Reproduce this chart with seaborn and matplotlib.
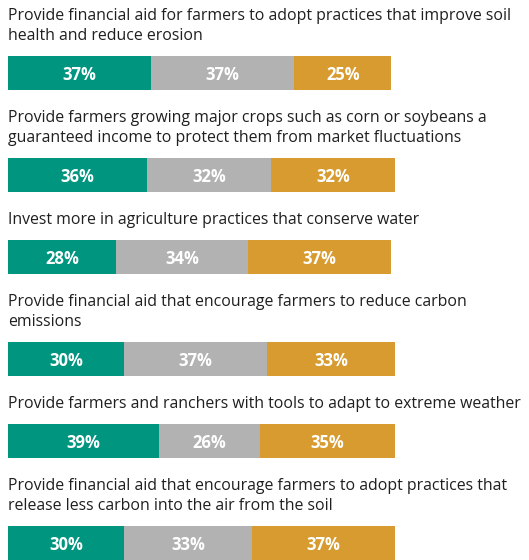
import matplotlib
matplotlib.use("Agg")
import matplotlib.pyplot as plt
import seaborn as sns
import numpy as np
import pandas as pd

titles = [
    "Provide financial aid for farmers to adopt practices that improve soil\nhealth and reduce erosion",
    "Provide farmers growing major crops such as corn or soybeans a\nguaranteed income to protect them from market fluctuations",
    "Invest more in agriculture practices that conserve water",
    "Provide financial aid that encourage farmers to reduce carbon\nemissions",
    "Provide farmers and ranchers with tools to adapt to extreme weather",
    "Provide financial aid that encourage farmers to adopt practices that\nrelease less carbon into the air from the soil",
]
support = [37, 36, 28, 30, 39, 30]
neutral = [37, 32, 34, 37, 26, 33]
oppose = [25, 32, 37, 33, 35, 37]

colors = ["#00957F", "#B1B2B1", "#D89B2F"]

sns.set_theme(style="white")
plt.rcParams["font.family"] = ["Open Sans", "DejaVu Sans"]

W, H = 529, 560
dpi = 100
fig = plt.figure(figsize=(W / dpi, H / dpi), dpi=dpi)

left_px = 8
full_px = 387  # width of 100%
bar_h = 34
line_gap = 20
base_gap = 16
title_size = 11.45
label_size = 12

top = 0
for i, t in enumerate(titles):
    lines = t.split("\n")
    n = len(lines)
    if i == 0:
        top = base_gap + line_gap * n
    else:
        top = top + bar_h + 28 + line_gap * n
    ax = fig.add_axes([left_px / W, 1 - (top + bar_h) / H, full_px / W, bar_h / H])
    s, m, o = support[i], neutral[i], oppose[i]
    cum = [s, s + m, s + m + o]
    df = pd.DataFrame({"cat": [""], "v3": [cum[2]], "v2": [cum[1]], "v1": [cum[0]]})
    for col, c in zip(["v3", "v2", "v1"], [colors[2], colors[1], colors[0]]):
        sns.barplot(data=df, x=col, y="cat", color=c, saturation=1, width=1,
                    linewidth=0, edgecolor="none", ax=ax, orient="h")
    ax.set_xlim(0, 100)
    ax.set_ylim(0.5, -0.5)
    ax.set_axis_off()
    lefts = [0, s, s + m]
    vals = [s, m, o]
    for lft, v in zip(lefts, vals):
        ax.text(lft + v / 2, 0, f"{v}%", ha="center", va="center_baseline",
                color="white", fontsize=label_size, fontweight="bold")
    # titles
    for k, ln in enumerate(lines):
        y_px = top - base_gap - line_gap * (n - 1 - k)
        fig.text(left_px / W, 1 - y_px / H, ln, ha="left", va="baseline",
                 fontsize=title_size, color="#1f1f1f")

fig.savefig("out.png", dpi=dpi)
